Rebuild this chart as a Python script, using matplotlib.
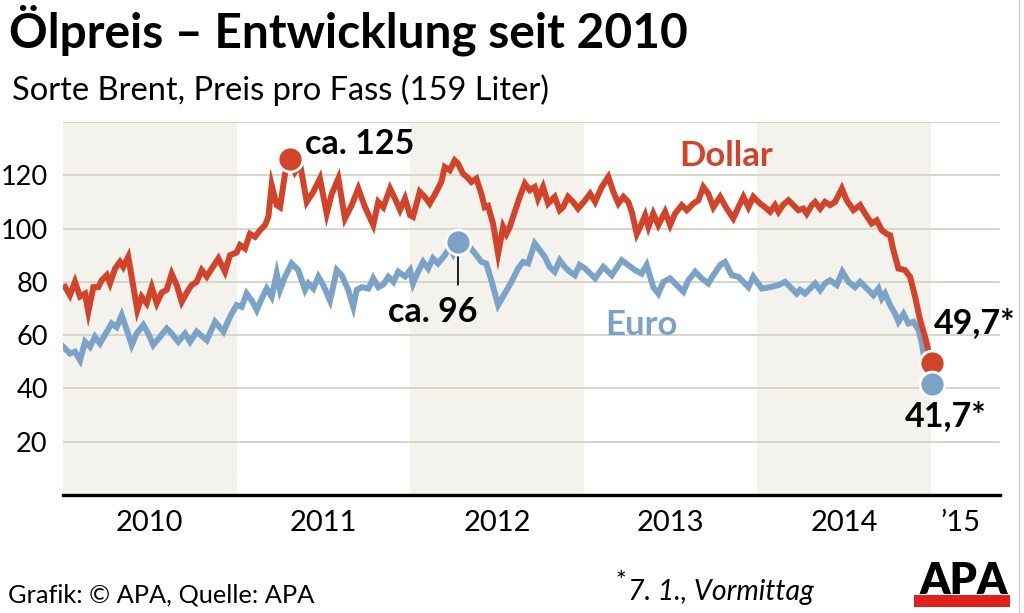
import numpy as np
import matplotlib
matplotlib.use("Agg")
import matplotlib.pyplot as plt
from matplotlib.patches import Rectangle
from matplotlib.lines import Line2D

plt.rcParams['font.family'] = ['Lato', 'DejaVu Sans']

# Brent, price per barrel, time in decimal years
dollar_years = [2010.012, 2010.040, 2010.069, 2010.098, 2010.127, 2010.146, 2010.175, 2010.203, 2010.223, 2010.252,
                2010.271, 2010.300, 2010.328, 2010.347, 2010.376, 2010.428, 2010.453, 2010.482, 2010.511, 2010.540,
                2010.569, 2010.597, 2010.626, 2010.655, 2010.684, 2010.713, 2010.741, 2010.770, 2010.799, 2010.828,
                2010.857, 2010.895, 2010.933, 2010.962, 2011.000,
                2011.020, 2011.048, 2011.077, 2011.106, 2011.135, 2011.164, 2011.183, 2011.202, 2011.231, 2011.250,
                2011.279, 2011.308, 2011.336, 2011.365, 2011.404, 2011.442, 2011.480, 2011.519, 2011.548, 2011.586,
                2011.624, 2011.663, 2011.701, 2011.740, 2011.787, 2011.816, 2011.845, 2011.884, 2011.912, 2011.941,
                2011.970, 2011.999,
                2012.016, 2012.055, 2012.084, 2012.112, 2012.150, 2012.179, 2012.199, 2012.228, 2012.256, 2012.275,
                2012.304, 2012.333, 2012.352, 2012.381, 2012.410, 2012.429, 2012.448, 2012.477, 2012.506, 2012.535,
                2012.554, 2012.573, 2012.602, 2012.631, 2012.660, 2012.688, 2012.717, 2012.736, 2012.765, 2012.794,
                2012.832, 2012.861, 2012.880, 2012.909, 2012.938, 2012.967,
                2013.007, 2013.036, 2013.065, 2013.103, 2013.141, 2013.170, 2013.199, 2013.228, 2013.256, 2013.276,
                2013.305, 2013.324, 2013.353, 2013.372, 2013.400, 2013.429, 2013.468, 2013.497, 2013.525, 2013.564,
                2013.593, 2013.631, 2013.660, 2013.688, 2013.717, 2013.746, 2013.785, 2013.823, 2013.861, 2013.890,
                2013.919, 2013.948, 2013.976,
                2014.015, 2014.044, 2014.073, 2014.101, 2014.121, 2014.149, 2014.178, 2014.207, 2014.236, 2014.264,
                2014.284, 2014.313, 2014.332, 2014.361, 2014.389, 2014.418, 2014.447, 2014.486, 2014.514, 2014.553,
                2014.591, 2014.620, 2014.658, 2014.687, 2014.716, 2014.745, 2014.764, 2014.783, 2014.812, 2014.850,
                2014.879, 2014.908, 2014.937, 2014.965, 2014.994, 2015.006]
dollar_values = [78.1, 75, 80, 74.5, 75.6, 68.8, 78, 78, 80.6, 82.5,
                 79.4, 85, 87.5, 85.6, 89.4, 69.4, 74.4, 71.9, 78, 72,
                 76, 77, 83, 78.8, 72.5, 76, 78.8, 80, 84.4, 82,
                 85, 88.8, 83.8, 90, 91,
                 93.8, 92.5, 98, 96.9, 99.4, 101.3, 104.4, 116.3, 108.8, 108,
                 120.6, 126, 121.3, 124.4, 110, 113.8, 118.8, 105.6, 113, 118.8,
                 103.8, 108.8, 115, 108, 101.3, 110, 108, 115, 111.3, 107,
                 111.3, 105,
                 104.4, 113.8, 111.9, 109.4, 113.8, 117.5, 123.1, 121.9, 125.6, 124.4,
                 120.6, 119, 117.5, 118.8, 113, 108, 108.5, 101.9, 90.6, 100.6,
                 98, 100.5, 106.3, 111.9, 116.9, 114.4, 115.6, 111.3, 115.6, 109.4,
                 111.9, 106.9, 108, 111.9, 110, 107.5,
                 110.6, 113.1, 110, 115.6, 119.4, 113.8, 109.4, 111.9, 110, 106.3,
                 98, 100.6, 105, 100.6, 105.6, 101.3, 106.3, 101.3, 105.6, 108.8,
                 106.9, 109.4, 110.6, 115.6, 113.1, 108, 111.9, 107.5, 103.8, 108,
                 111.9, 108, 111.9,
                 109.4, 108, 106.3, 108.8, 106.3, 109, 110.6, 108.8, 106.9, 107.5,
                 105.6, 108.8, 110, 107.5, 110, 108.8, 110, 115, 110.6, 106.9,
                 108.8, 105.6, 101.9, 103.1, 99.4, 98, 97.5, 91.9, 85, 84.4,
                 81.9, 74.4, 65.6, 59.4, 51.9, 49.7]

euro_years = [2010.002, 2010.040, 2010.069, 2010.098, 2010.127, 2010.156, 2010.184, 2010.213, 2010.252, 2010.280,
              2010.309, 2010.338, 2010.367, 2010.396, 2010.424, 2010.463, 2010.491, 2010.520, 2010.559, 2010.597,
              2010.626, 2010.664, 2010.703, 2010.732, 2010.770, 2010.828, 2010.876, 2010.924, 2010.962, 2011.000,
              2011.029, 2011.058, 2011.087, 2011.116, 2011.145, 2011.173, 2011.202, 2011.231, 2011.250, 2011.279,
              2011.317, 2011.355, 2011.394, 2011.413, 2011.442, 2011.471, 2011.499, 2011.538, 2011.577, 2011.605,
              2011.643, 2011.672, 2011.692, 2011.721, 2011.759, 2011.787, 2011.816, 2011.845, 2011.874, 2011.903,
              2011.931, 2011.970, 2011.999,
              2012.016, 2012.045, 2012.074, 2012.103, 2012.131, 2012.160, 2012.199, 2012.228, 2012.247, 2012.275,
              2012.343, 2012.381, 2012.410, 2012.438, 2012.467, 2012.506, 2012.544, 2012.583, 2012.621, 2012.650,
              2012.679, 2012.717, 2012.746, 2012.775, 2012.803, 2012.832, 2012.861, 2012.890, 2012.919, 2012.948,
              2012.976,
              2013.007, 2013.065, 2013.112, 2013.161, 2013.218, 2013.256, 2013.295, 2013.333, 2013.362, 2013.400,
              2013.429, 2013.458, 2013.497, 2013.535, 2013.573, 2013.602, 2013.641, 2013.679, 2013.717, 2013.746,
              2013.785, 2013.813, 2013.852, 2013.890, 2013.919, 2013.948, 2013.976,
              2014.025, 2014.073, 2014.121, 2014.159, 2014.197, 2014.226, 2014.245, 2014.274, 2014.303, 2014.332,
              2014.361, 2014.389, 2014.418, 2014.457, 2014.489, 2014.524, 2014.562, 2014.591, 2014.630, 2014.668,
              2014.697, 2014.716, 2014.735, 2014.764, 2014.793, 2014.812, 2014.841, 2014.870, 2014.899, 2014.928,
              2014.947, 2014.965, 2015.006]
euro_values = [55.6, 53.1, 53.8, 50.6, 57.5, 55.6, 59.4, 56.9, 61.3, 64.4,
               63, 67.5, 62, 56.3, 60.6, 63.8, 60.6, 56.3, 59.4, 62.5,
               60.6, 57.5, 60.6, 57.5, 61.3, 58.1, 65, 61.3, 66.9, 71.3,
               70.6, 75.6, 73, 69.4, 73.8, 77.5, 74.4, 83.1, 77, 82,
               86.9, 84.4, 77, 79.4, 77.5, 81.9, 78.8, 73, 84.4, 82.5,
               77, 70.6, 77, 78, 77.5, 81.3, 78, 79, 81.9, 80,
               83.8, 82, 84.4,
               79.4, 83.8, 87.5, 85, 88.8, 86.9, 90, 93.1, 90.6, 95,
               93.1, 90, 87.5, 86.9, 80.6, 71.3, 75.6, 80, 85, 87.5,
               86.9, 94.4, 91.9, 89.4, 85.6, 83.8, 88.1, 85.6, 83.8, 82.5,
               86.3,
               85, 81.3, 85.6, 82.5, 88.1, 86.3, 84.4, 83.1, 86.3, 78,
               75.6, 80, 81.3, 78.8, 76.3, 80.6, 83.8, 81.3, 79.4, 82.5,
               86.3, 87.5, 82.5, 81.9, 80, 78, 81.9,
               77.5, 78, 78.8, 80, 77.5, 75.6, 77, 75.6, 77.5, 79.4,
               76.9, 79.4, 80.6, 78.8, 83.8, 80, 78, 80, 77.5, 75,
               77.5, 73.8, 75.6, 71.3, 68, 65, 68, 64.4, 65, 61.9,
               56.9, 49.4, 41.7]

year_ticks = [2010.5, 2011.5, 2012.5, 2013.5, 2014.5, 2015.17]
year_labels = ['2010', '2011', '2012', '2013', '2014', '\u201915']
y_ticks = [20, 40, 60, 80, 100, 120]
shaded_years = [2010, 2012, 2014]

RED = '#d2432a'
BLUE = '#7ba3c8'

W, H = 1024, 613
fig = plt.figure(figsize=(W / 100, H / 100), dpi=100)
fig.patch.set_facecolor('white')


def fx(x):
    return x / W


def fy(y):
    return 1 - y / H


ax = fig.add_axes([fx(63), fy(495), (1000 - 63) / W, (495 - 122) / H])
ax.set_facecolor('white')
ax.set_xlim(2010, 2015.397)
ax.set_ylim(0, 140)

for yr in shaded_years:
    ax.axvspan(yr, yr + 1, color='#f4f2ec', lw=0, zorder=0)
for g in [20, 40, 60, 80, 100, 120, 140]:
    ax.axhline(g, color='#d6d2c6', lw=1.3, zorder=1)
ax.axhline(0, color='black', lw=2.4, zorder=3, clip_on=False)

for s in ax.spines.values():
    s.set_visible(False)

ax.set_yticks(y_ticks)
ax.set_yticklabels([str(v) for v in y_ticks])
ax.set_xticks(year_ticks)
ax.set_xticklabels(year_labels)
ax.tick_params(axis='y', length=0, pad=11, labelsize=19.5)
ax.tick_params(axis='x', length=0, pad=11, labelsize=21)

ax.plot(euro_years, euro_values, color=BLUE, lw=4.3, solid_joinstyle='miter', zorder=4)
ax.plot(dollar_years, dollar_values, color=RED, lw=4.3, solid_joinstyle='miter', zorder=5)

# markers
d_peak = int(np.argmax(dollar_values))
e_peak = int(np.argmax(euro_values))
mk = dict(marker='o', ms=18, mec='white', mew=2, ls='none', zorder=7, clip_on=False)
ax.plot(dollar_years[d_peak], dollar_values[d_peak], mfc=RED, **mk)
ax.plot(euro_years[e_peak], euro_values[e_peak], mfc=BLUE, **mk)
ax.plot(dollar_years[-1], dollar_values[-1], mfc=RED, **mk)
ax.plot(euro_years[-1], euro_values[-1], mfc=BLUE, **mk)

lab = dict(fontsize=24.5, fontweight='bold', textcoords='offset pixels', zorder=8)
ax.annotate('ca. 125', (dollar_years[d_peak], dollar_values[d_peak]), xytext=(15, 15),
            ha='left', va='center', **lab)
ax.annotate('ca. 96', (euro_years[e_peak], euro_values[e_peak]), xytext=(-25, -70),
            ha='center', va='center', **lab)
ax.annotate('', (euro_years[e_peak], euro_values[e_peak]), xytext=(0, -43), textcoords='offset pixels',
            arrowprops=dict(arrowstyle='-', color='black', lw=1.2, shrinkA=0, shrinkB=10))
ax.annotate('49,7*', (dollar_years[-1], dollar_values[-1]), xytext=(2, 40),
            ha='left', va='center', **lab)
ax.annotate('41,7*', (euro_years[-1], euro_values[-1]), xytext=(-27, -32),
            ha='left', va='center', **lab)

ax.text(2013.82, 127.4, 'Dollar', color=RED, fontsize=25, fontweight='bold', ha='center', va='center')
ax.text(2013.33, 63.9, 'Euro', color=BLUE, fontsize=25, fontweight='bold', ha='center', va='center')

# titles
fig.text(fx(9), fy(30), 'Ölpreis \u2013 Entwicklung seit 2010', fontsize=34.5, fontweight='bold',
         ha='left', va='center')
fig.text(fx(12), fy(90), 'Sorte Brent, Preis pro Fass (159 Liter)', fontsize=23.5,
         ha='left', va='center')

# footer
fig.text(fx(8), fy(595), 'Grafik: © APA, Quelle: APA', fontsize=18.3, ha='left', va='center')
fig.text(fx(615), fy(581), '*', fontsize=18, ha='left', va='center')
fig.text(fx(628), fy(592), '7. 1., Vormittag', fontsize=20.5, style='italic', ha='left', va='center')

# APA logo
fig.patches.append(Rectangle((fx(914), fy(607)), (1010 - 914) / W, 12 / H, transform=fig.transFigure,
                             color='#e0201b', lw=0))
fig.text(fx(964), fy(594), 'APA', fontsize=31, fontweight='heavy', ha='center', va='baseline',
         color='black')

# right frame line
fig.lines.append(Line2D([fx(1019), fx(1019)], [0, 1], transform=fig.transFigure, color='#d0d0d0', lw=1))

fig.savefig('out.png', dpi=100)
